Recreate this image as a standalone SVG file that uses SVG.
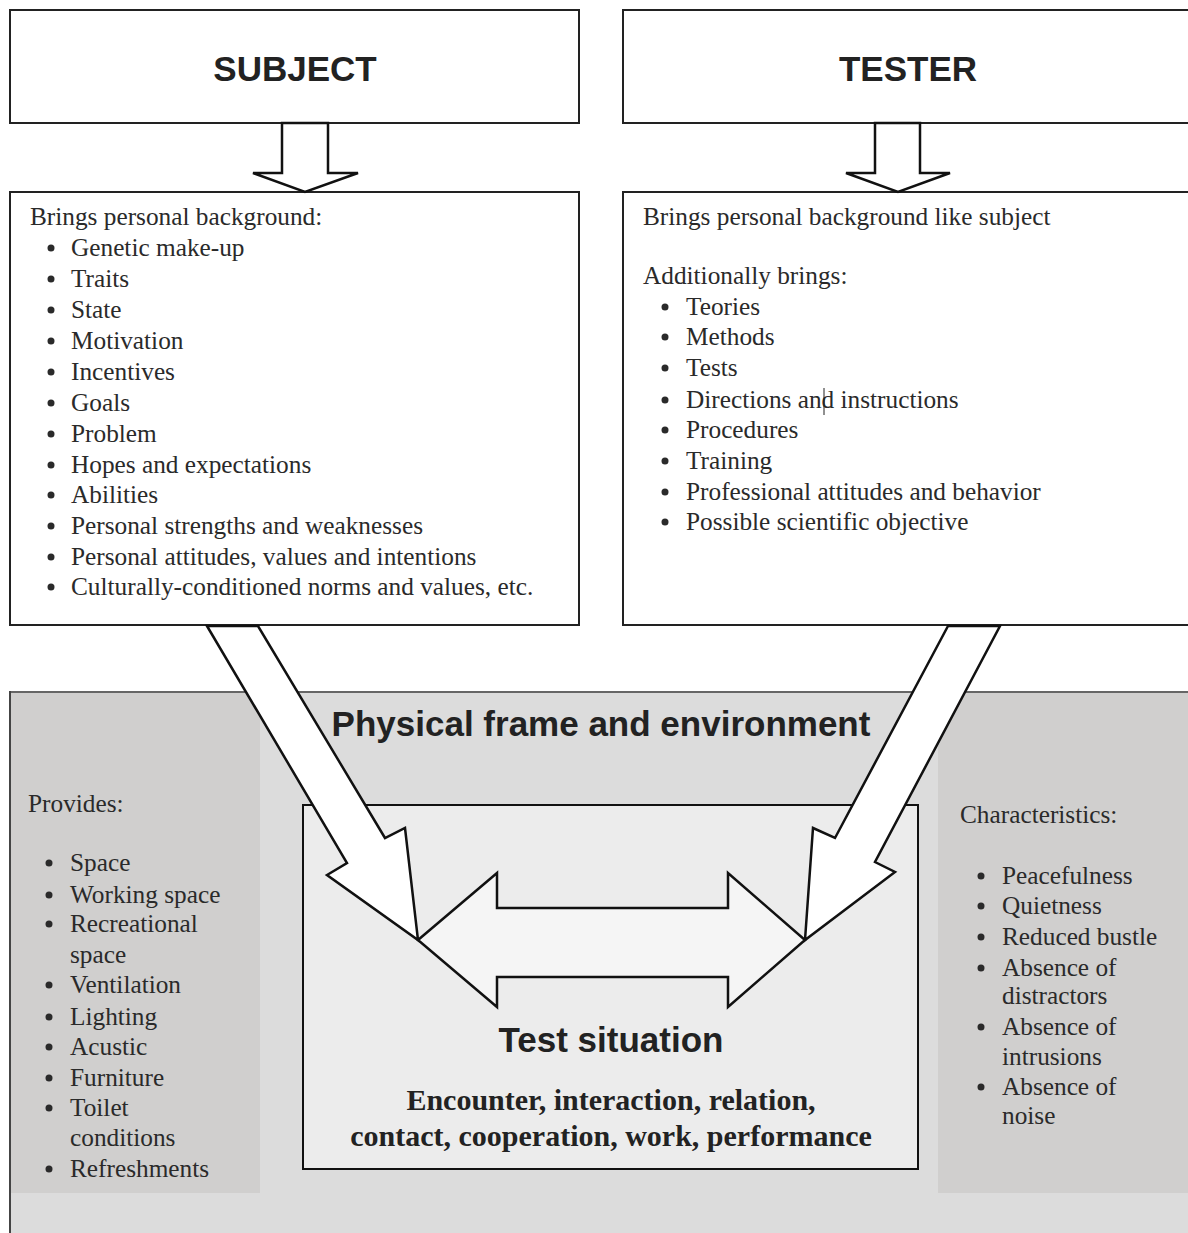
<svg xmlns="http://www.w3.org/2000/svg" width="1188" height="1233" viewBox="0 0 1188 1233">
<style>
.box{fill:#fff;stroke:#222;stroke-width:2}
.h{font-family:"Liberation Sans",Arial,sans-serif;font-weight:bold;font-size:35px;fill:#222}
.t{font-family:"Liberation Serif","Times New Roman",serif;font-size:25.3px;fill:#2a2a2a}
.tb{font-family:"Liberation Serif","Times New Roman",serif;font-size:30px;font-weight:bold;fill:#222}
.arr{fill:#fff;stroke:#111;stroke-width:2.5;stroke-linejoin:miter}
.b{fill:#2a2a2a}
</style>
<rect width="1188" height="1233" fill="#fff"/>

<g id="environment">
<rect x="10" y="692" width="1190" height="560" fill="#dcdcdc"/>
<rect x="10" y="692" width="250" height="501" fill="#d0cfce"/>
<rect x="938" y="692" width="260" height="501" fill="#d0cfce"/>
<line x1="10" y1="692" x2="1188" y2="692" stroke="#666" stroke-width="2"/>
<line x1="10" y1="691" x2="10" y2="1233" stroke="#444" stroke-width="2"/>
<text class="h" x="601" y="736" text-anchor="middle">Physical frame and environment</text>
</g>

<g id="provides">
<text class="t" x="28" y="812">Provides:</text>
<g class="b">
<circle cx="49" cy="863" r="3.5"/><circle cx="49" cy="895" r="3.5"/><circle cx="49" cy="924" r="3.5"/>
<circle cx="49" cy="985" r="3.5"/><circle cx="49" cy="1017" r="3.5"/><circle cx="49" cy="1047" r="3.5"/>
<circle cx="49" cy="1078" r="3.5"/><circle cx="49" cy="1108" r="3.5"/><circle cx="49" cy="1169" r="3.5"/>
</g>
<text class="t" x="70" y="871">Space</text>
<text class="t" x="70" y="903">Working space</text>
<text class="t" x="70" y="932">Recreational</text>
<text class="t" x="70" y="963">space</text>
<text class="t" x="70" y="993">Ventilation</text>
<text class="t" x="70" y="1025">Lighting</text>
<text class="t" x="70" y="1055">Acustic</text>
<text class="t" x="70" y="1086">Furniture</text>
<text class="t" x="70" y="1116">Toilet</text>
<text class="t" x="70" y="1146">conditions</text>
<text class="t" x="70" y="1177">Refreshments</text>
</g>

<g id="characteristics">
<text class="t" x="960" y="823">Characteristics:</text>
<g class="b">
<circle cx="981" cy="876" r="3.5"/><circle cx="981" cy="906" r="3.5"/><circle cx="981" cy="937" r="3.5"/>
<circle cx="981" cy="968" r="3.5"/><circle cx="981" cy="1027" r="3.5"/><circle cx="981" cy="1087" r="3.5"/>
</g>
<text class="t" x="1002" y="884">Peacefulness</text>
<text class="t" x="1002" y="914">Quietness</text>
<text class="t" x="1002" y="945">Reduced bustle</text>
<text class="t" x="1002" y="976">Absence of</text>
<text class="t" x="1002" y="1004">distractors</text>
<text class="t" x="1002" y="1035">Absence of</text>
<text class="t" x="1002" y="1065">intrusions</text>
<text class="t" x="1002" y="1095">Absence of</text>
<text class="t" x="1002" y="1124">noise</text>
</g>

<g id="test-situation">
<rect x="303" y="805" width="615" height="364" fill="#ececec" stroke="#111" stroke-width="2"/>
<text class="h" x="611" y="1052" text-anchor="middle">Test situation</text>
<text class="tb" x="611" y="1110" text-anchor="middle">Encounter, interaction, relation,</text>
<text class="tb" x="611" y="1146" text-anchor="middle">contact, cooperation, work, performance</text>
</g>

<g id="subject">
<rect class="box" x="10" y="10" width="569" height="113"/>
<text class="h" x="295" y="81" text-anchor="middle">SUBJECT</text>
</g>

<g id="tester">
<rect class="box" x="623" y="10" width="600" height="113"/>
<text class="h" x="908" y="81" text-anchor="middle">TESTER</text>
</g>

<g id="subject-background">
<rect class="box" x="10" y="192" width="569" height="433"/>
<text class="t" x="30" y="225">Brings personal background:</text>
<g class="b">
<circle cx="51" cy="248" r="3.5"/><circle cx="51" cy="279" r="3.5"/><circle cx="51" cy="310" r="3.5"/>
<circle cx="51" cy="341" r="3.5"/><circle cx="51" cy="372" r="3.5"/><circle cx="51" cy="403" r="3.5"/>
<circle cx="51" cy="434" r="3.5"/><circle cx="51" cy="465" r="3.5"/><circle cx="51" cy="495" r="3.5"/>
<circle cx="51" cy="526" r="3.5"/><circle cx="51" cy="557" r="3.5"/><circle cx="51" cy="587" r="3.5"/>
</g>
<text class="t" x="71" y="256">Genetic make-up</text>
<text class="t" x="71" y="287">Traits</text>
<text class="t" x="71" y="318">State</text>
<text class="t" x="71" y="349">Motivation</text>
<text class="t" x="71" y="380">Incentives</text>
<text class="t" x="71" y="411">Goals</text>
<text class="t" x="71" y="442">Problem</text>
<text class="t" x="71" y="473">Hopes and expectations</text>
<text class="t" x="71" y="503">Abilities</text>
<text class="t" x="71" y="534">Personal strengths and weaknesses</text>
<text class="t" x="71" y="565">Personal attitudes, values and intentions</text>
<text class="t" x="71" y="595">Culturally-conditioned norms and values, etc.</text>
</g>

<g id="tester-background">
<rect class="box" x="623" y="192" width="600" height="433"/>
<text class="t" x="643" y="225">Brings personal background like subject</text>
<text class="t" x="643" y="284">Additionally brings:</text>
<g class="b">
<circle cx="665" cy="307" r="3.5"/><circle cx="665" cy="337" r="3.5"/><circle cx="665" cy="368" r="3.5"/>
<circle cx="665" cy="400" r="3.5"/><circle cx="665" cy="430" r="3.5"/><circle cx="665" cy="461" r="3.5"/>
<circle cx="665" cy="492" r="3.5"/><circle cx="665" cy="522" r="3.5"/>
</g>
<text class="t" x="686" y="315">Teories</text>
<text class="t" x="686" y="345">Methods</text>
<text class="t" x="686" y="376">Tests</text>
<text class="t" x="686" y="408">Directions and instructions</text>
<line x1="824" y1="388" x2="824" y2="415" stroke="#222" stroke-width="1"/>
<text class="t" x="686" y="438">Procedures</text>
<text class="t" x="686" y="469">Training</text>
<text class="t" x="686" y="500">Professional attitudes and behavior</text>
<text class="t" x="686" y="530">Possible scientific objective</text>
</g>

<g id="connectors">
<polygon class="arr" points="282,123 328,123 328,173 358,173 305,192 253,173 282,173"/>
<polygon class="arr" points="875,123 920,123 920,173 950,173 898,192 846,173 875,173"/>
<polygon class="arr" style="fill:#f5f5f5" points="418,940 497,873 497,908 728,908 728,873 805,940 728,1007 728,977 497,977 497,1007"/>
<polygon class="arr" points="207,626 347,863 327,875 418,940 405,828 385,838 258,626"/>
<polygon class="arr" points="948,626 835,838 813,828 805,940 895,872 875,862 1000,626"/>
</g>
</svg>
